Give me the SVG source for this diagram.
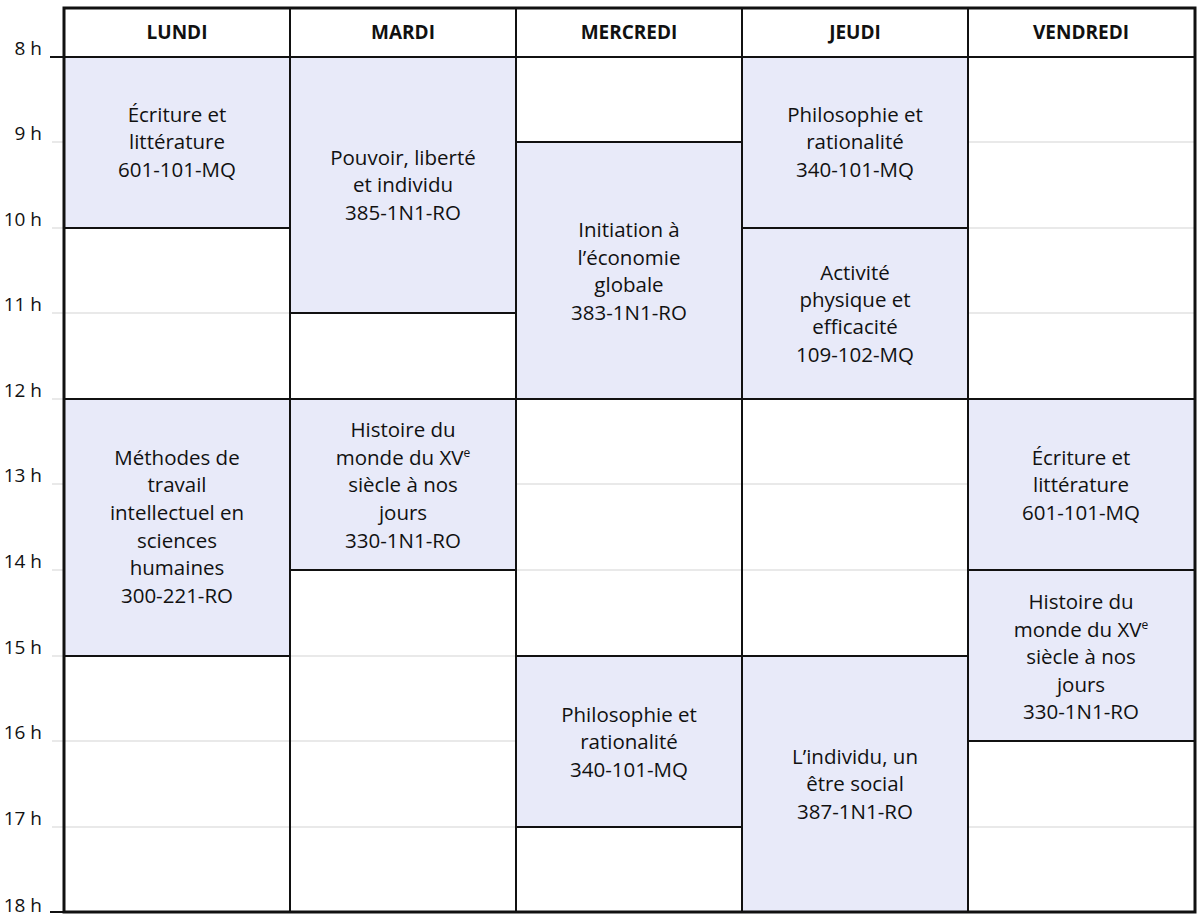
<svg xmlns="http://www.w3.org/2000/svg" width="1200" height="921" viewBox="0 0 1200 921">
<style>
text{font-family:"Open Sans","DejaVu Sans",sans-serif;fill:#111}
.h{font-size:19px;text-anchor:end}
.d{font-size:19px;font-weight:bold;text-anchor:middle}
.c{font-size:20.5px;text-anchor:middle}
.b{fill:#e8eaf9;stroke:#111;stroke-width:2}
.g{stroke:#d4d4d4;stroke-width:1.2}
.k{stroke:#111;stroke-width:2}
</style>
<rect x="0" y="0" width="1200" height="921" fill="#fff"/>
<g id="grid">
<g class="g">
<line x1="52" y1="142" x2="1195" y2="142"/><line x1="52" y1="228" x2="1195" y2="228"/>
<line x1="52" y1="313" x2="1195" y2="313"/><line x1="52" y1="399" x2="1195" y2="399"/>
<line x1="52" y1="484" x2="1195" y2="484"/><line x1="52" y1="570" x2="1195" y2="570"/>
<line x1="52" y1="656" x2="1195" y2="656"/><line x1="52" y1="741" x2="1195" y2="741"/>
<line x1="52" y1="827" x2="1195" y2="827"/>
</g>
<g class="k">
<line x1="50" y1="57" x2="1195" y2="57"/><line x1="50" y1="912" x2="1195" y2="912"/>
<line x1="290" y1="8" x2="290" y2="912"/><line x1="516" y1="8" x2="516" y2="912"/>
<line x1="742" y1="8" x2="742" y2="912"/><line x1="968" y1="8" x2="968" y2="912"/>
</g>
<g class="h">
<text x="42" y="55">8 h</text><text x="42" y="140">9 h</text><text x="42" y="226">10 h</text>
<text x="42" y="311">11 h</text><text x="42" y="397">12 h</text><text x="42" y="482">13 h</text>
<text x="42" y="568">14 h</text><text x="42" y="654">15 h</text><text x="42" y="739">16 h</text>
<text x="42" y="825">17 h</text><text x="42" y="912">18 h</text>
</g>
<g class="d">
<text x="177" y="39">LUNDI</text><text x="403" y="39">MARDI</text><text x="629" y="39">MERCREDI</text>
<text x="855" y="39">JEUDI</text><text x="1081" y="39">VENDREDI</text>
</g>
</g>
<g id="lun1"><rect class="b" x="64" y="57" width="226" height="171"/><text class="c" x="177"><tspan x="177" y="122">Écriture et</tspan><tspan x="177" y="149">littérature</tspan><tspan x="177" y="177">601-101-MQ</tspan></text></g>
<g id="lun2"><rect class="b" x="64" y="399" width="226" height="257"/><text class="c"><tspan x="177" y="465">Méthodes de</tspan><tspan x="177" y="492">travail</tspan><tspan x="177" y="520">intellectuel en</tspan><tspan x="177" y="548">sciences</tspan><tspan x="177" y="575">humaines</tspan><tspan x="177" y="603">300-221-RO</tspan></text></g>
<g id="mar1"><rect class="b" x="290" y="57" width="226" height="256"/><text class="c"><tspan x="403" y="165">Pouvoir, liberté</tspan><tspan x="403" y="192">et individu</tspan><tspan x="403" y="220">385-1N1-RO</tspan></text></g>
<g id="mar2"><rect class="b" x="290" y="399" width="226" height="171"/><text class="c"><tspan x="403" y="437">Histoire du</tspan><tspan x="403" y="465">monde du XV<tspan font-size="12" dy="-8">e</tspan></tspan><tspan x="403" y="492">siècle à nos</tspan><tspan x="403" y="520">jours</tspan><tspan x="403" y="548">330-1N1-RO</tspan></text></g>
<g id="mer1"><rect class="b" x="516" y="142" width="226" height="257"/><text class="c"><tspan x="629" y="237">Initiation à</tspan><tspan x="629" y="265">l’économie</tspan><tspan x="629" y="292">globale</tspan><tspan x="629" y="320">383-1N1-RO</tspan></text></g>
<g id="mer2"><rect class="b" x="516" y="656" width="226" height="171"/><text class="c"><tspan x="629" y="722">Philosophie et</tspan><tspan x="629" y="749">rationalité</tspan><tspan x="629" y="777">340-101-MQ</tspan></text></g>
<g id="jeu1"><rect class="b" x="742" y="57" width="226" height="171"/><text class="c"><tspan x="855" y="122">Philosophie et</tspan><tspan x="855" y="149">rationalité</tspan><tspan x="855" y="177">340-101-MQ</tspan></text></g>
<g id="jeu2"><rect class="b" x="742" y="228" width="226" height="171"/><text class="c"><tspan x="855" y="280">Activité</tspan><tspan x="855" y="307">physique et</tspan><tspan x="855" y="334">efficacité</tspan><tspan x="855" y="362">109-102-MQ</tspan></text></g>
<g id="jeu3"><rect class="b" x="742" y="656" width="226" height="256"/><text class="c"><tspan x="855" y="764">L’individu, un</tspan><tspan x="855" y="791">être social</tspan><tspan x="855" y="819">387-1N1-RO</tspan></text></g>
<g id="ven1"><rect class="b" x="968" y="399" width="227" height="171"/><text class="c"><tspan x="1081" y="465">Écriture et</tspan><tspan x="1081" y="492">littérature</tspan><tspan x="1081" y="520">601-101-MQ</tspan></text></g>
<g id="ven2"><rect class="b" x="968" y="570" width="227" height="171"/><text class="c"><tspan x="1081" y="609">Histoire du</tspan><tspan x="1081" y="637">monde du XV<tspan font-size="12" dy="-8">e</tspan></tspan><tspan x="1081" y="664">siècle à nos</tspan><tspan x="1081" y="692">jours</tspan><tspan x="1081" y="719">330-1N1-RO</tspan></text></g>
<rect id="frame" x="64" y="8" width="1131" height="904" fill="none" stroke="#111" stroke-width="3"/>
</svg>
